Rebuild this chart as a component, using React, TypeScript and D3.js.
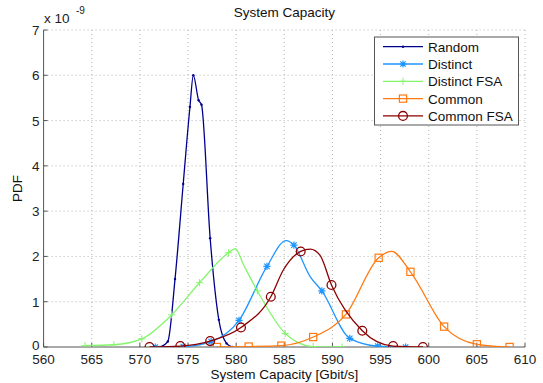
import React from "react";
import * as d3 from "d3";

const xTicks = [560, 565, 570, 575, 580, 585, 590, 595, 600, 605, 610];
const yTicks = [0, 1, 2, 3, 4, 5, 6, 7];

// marker points
const randomX = [572.1, 572.9, 573.65, 574.5, 575.2, 575.55, 576.1, 576.4, 577.3, 578.2, 579.0, 579.6];
const randomY = [0, 0.12, 1.5, 3.6, 5.3, 6.0, 5.45, 5.35, 2.4, 0.6, 0.08, 0];

const distinctX = [571.6, 574.5, 577.4, 580.3, 583.2, 586.0, 588.9, 591.8, 594.7, 597.6];
const distinctY = [0, 0.01, 0.12, 0.59, 1.78, 2.25, 1.24, 0.19, 0.02, 0];

const distinctFsaX = [564.3, 567.3, 570.2, 573.3, 576.2, 579.2, 582.2, 585.1, 588.0, 591.0];
const distinctFsaY = [0.03, 0.05, 0.18, 0.71, 1.42, 2.08, 1.24, 0.3, 0.01, 0];

const commonX = [578.0, 581.3, 584.7, 588.0, 591.4, 594.8, 598.1, 601.6, 605.0, 608.4];
const commonY = [0, 0.01, 0.03, 0.22, 0.72, 1.97, 1.66, 0.45, 0.06, 0];

const commonFsaX = [571.0, 574.2, 577.3, 580.5, 583.6, 586.7, 589.9, 593.1, 596.3, 599.4];
const commonFsaY = [0, 0.02, 0.13, 0.43, 1.11, 2.11, 1.37, 0.36, 0.02, 0];

// extra curve points between markers (peaks / shoulders)
const randomExtraX: number[] = [];
const randomExtraY: number[] = [];
const distinctExtraX = [585.2, 587.7];
const distinctExtraY = [2.35, 1.55];
const distinctFsaExtraX = [579.9, 580.8];
const distinctFsaExtraY = [2.17, 1.8];
const commonExtraX = [596.15];
const commonExtraY = [2.11];
const commonFsaExtraX = [584.9, 587.7, 588.7];
const commonFsaExtraY = [1.7, 2.16, 2.03];

const seriesNames = ["Random", "Distinct", "Distinct FSA", "Common", "Common FSA"];
const seriesColors = ["#00008f", "#1e96ff", "#84f56c", "#ff7a12", "#8b0000"];
const seriesMarkers = ["dot", "star", "plus", "square", "circle"];

const W = 543;
const H = 383;
const left = 43.6;
const right = 525;
const top = 30;
const bottom = 347;
const FONT = "'Liberation Sans', Arial, Helvetica, sans-serif";

function Marker({ type, x, y, color }: { type: string; x: number; y: number; color: string }) {
  const s = 3.6;
  if (type === "dot") return <circle cx={x} cy={y} r={1.2} fill={color} />;
  if (type === "plus")
    return (
      <path d={`M${x - s},${y}H${x + s}M${x},${y - s}V${y + s}`} stroke={color} strokeWidth={1} fill="none" />
    );
  if (type === "star") {
    const d = s * 0.75;
    return (
      <path
        d={`M${x - s},${y}H${x + s}M${x},${y - s}V${y + s}M${x - d},${y - d}L${x + d},${y + d}M${x - d},${y + d}L${x + d},${y - d}`}
        stroke={color}
        strokeWidth={1.2}
        fill="none"
      />
    );
  }
  if (type === "square")
    return <rect x={x - 3.6} y={y - 3.6} width={7.2} height={7.2} stroke={color} strokeWidth={1.2} fill="none" />;
  return <circle cx={x} cy={y} r={4.4} stroke={color} strokeWidth={1.3} fill="none" />;
}

export default function App() {
  const xs = d3.scaleLinear().domain([560, 610]).range([left, right]);
  const ys = d3.scaleLinear().domain([0, 7]).range([bottom, top]);

  const series = [
    { xs: randomX, ys: randomY, ex: randomExtraX, ey: randomExtraY },
    { xs: distinctX, ys: distinctY, ex: distinctExtraX, ey: distinctExtraY },
    { xs: distinctFsaX, ys: distinctFsaY, ex: distinctFsaExtraX, ey: distinctFsaExtraY },
    { xs: commonX, ys: commonY, ex: commonExtraX, ey: commonExtraY },
    { xs: commonFsaX, ys: commonFsaY, ex: commonFsaExtraX, ey: commonFsaExtraY },
  ];

  const line = d3
    .line<[number, number]>()
    .x((d) => xs(d[0]))
    .y((d) => ys(d[1]))
    .curve(d3.curveMonotoneX);

  const legendRows = seriesNames.map((n, i) => ({ n, i, y: 46.7 + i * 17.3 }));

  return (
    <svg width={W} height={H} style={{ position: "absolute", left: 0, top: 0, background: "#fff" }} fontFamily={FONT}>
      <defs>
        <clipPath id="plotclip">
          <rect x={left - 6} y={top - 6} width={right - left + 12} height={bottom - top + 6} />
        </clipPath>
      </defs>
      <rect x={0} y={0} width={W} height={H} fill="#fff" />
      {xTicks.slice(1).map((t) => (
        <line key={"gx" + t} x1={xs(t)} x2={xs(t)} y1={top} y2={bottom} stroke="#b4b4b4" strokeWidth={1} strokeDasharray="1,3" />
      ))}
      {yTicks.slice(1).map((t) => (
        <line key={"gy" + t} x1={left} x2={right} y1={ys(t)} y2={ys(t)} stroke="#b4b4b4" strokeWidth={1} strokeDasharray="1,3" />
      ))}
      <line x1={left} x2={right} y1={bottom} y2={bottom} stroke="#555" strokeWidth={1} />
      <line x1={left} x2={left} y1={top} y2={bottom} stroke="#555" strokeWidth={1} />
      {xTicks.map((t) => (
        <g key={"xt" + t}>
          <line x1={xs(t)} x2={xs(t)} y1={bottom} y2={bottom - 4} stroke="#555" />
          <text x={xs(t)} y={364} textAnchor="middle" fontSize={13.5} fill="#222">
            {t}
          </text>
        </g>
      ))}
      {yTicks.map((t) => (
        <g key={"yt" + t}>
          <line x1={left} x2={left + 4} y1={ys(t)} y2={ys(t)} stroke="#555" />
          <text x={left - 4} y={ys(t) + (t === 0 ? 3 : 5)} textAnchor="end" fontSize={13.5} fill="#222">
            {t}
          </text>
        </g>
      ))}
      <text x={44} y={23} fontSize={13.5} fill="#222">
        x 10
      </text>
      <text x={76} y={14} fontSize={10} fill="#222">
        -9
      </text>
      <text x={(left + right) / 2} y={17} textAnchor="middle" fontSize={13.5} fill="#111">
        System Capacity
      </text>
      <text x={(left + right) / 2} y={379} textAnchor="middle" fontSize={13.5} fill="#111">
        System Capacity [Gbit/s]
      </text>
      <text transform={`translate(22,${(top + bottom) / 2}) rotate(-90)`} textAnchor="middle" fontSize={13.5} fill="#111">
        PDF
      </text>
      <g clipPath="url(#plotclip)">
        {series.map((s, i) => {
          const pts: [number, number][] = s.xs.map((x, k) => [x, s.ys[k]]);
          const linePts: [number, number][] = pts
            .concat(s.ex.map((x, k) => [x, s.ey[k]] as [number, number]))
            .sort((a, b) => a[0] - b[0]);
          return (
            <g key={"s" + i}>
              <path d={line(linePts) || ""} fill="none" stroke={seriesColors[i]} strokeWidth={1.3} />
              {pts.map((p, k) => (
                <Marker key={k} type={seriesMarkers[i]} x={xs(p[0])} y={ys(p[1])} color={seriesColors[i]} />
              ))}
            </g>
          );
        })}
      </g>
      <rect x={374.5} y={37} width={144} height={88} fill="#fff" stroke="#555" strokeWidth={1} />
      {legendRows.map((r) => (
        <g key={"lg" + r.i}>
          <line x1={383} x2={423} y1={r.y} y2={r.y} stroke={seriesColors[r.i]} strokeWidth={1.3} />
          <Marker type={seriesMarkers[r.i]} x={403} y={r.y} color={seriesColors[r.i]} />
          <text x={428} y={r.y + 5} fontSize={13.5} fill="#111">
            {r.n}
          </text>
        </g>
      ))}
    </svg>
  );
}
